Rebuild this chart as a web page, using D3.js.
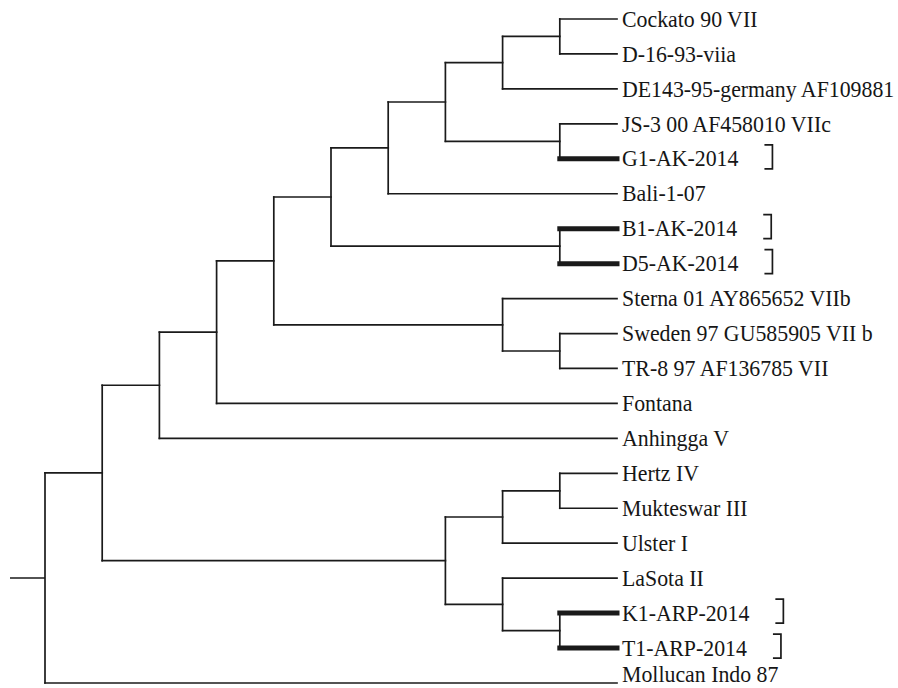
<!DOCTYPE html>
<html>
<head>
<meta charset="utf-8">
<script src="https://cdn.jsdelivr.net/npm/d3@7"></script>
<style>
  html, body { margin: 0; padding: 0; background: #fff; }
  svg { display: block; }
  text { font-family: "Liberation Serif", "Times New Roman", serif; font-size: 24px; fill: #161616; }
</style>
</head>
<body>
<svg id="chart" width="898" height="688"></svg>
<script>
// Leaf order, top to bottom
const leaves = [
  "Cockato 90 VII", "D-16-93-viia", "DE143-95-germany AF109881",
  "JS-3 00 AF458010 VIIc", "G1-AK-2014", "Bali-1-07",
  "B1-AK-2014", "D5-AK-2014", "Sterna 01 AY865652 VIIb",
  "Sweden 97 GU585905 VII b", "TR-8 97 AF136785 VII", "Fontana",
  "Anhingga V", "Hertz IV", "Mukteswar III", "Ulster I",
  "LaSota II", "K1-ARP-2014", "T1-ARP-2014", "Mollucan Indo 87"
];

// Tree topology (nested clades)
const cladeCockato = ["Cockato 90 VII", "D-16-93-viia"];
const cladeDE = [cladeCockato, "DE143-95-germany AF109881"];
const cladeJS = ["JS-3 00 AF458010 VIIc", "G1-AK-2014"];
const cladeBali = [[cladeDE, cladeJS], "Bali-1-07"];
const cladeAK = [cladeBali, ["B1-AK-2014", "D5-AK-2014"]];
const cladeSterna = ["Sterna 01 AY865652 VIIb", ["Sweden 97 GU585905 VII b", "TR-8 97 AF136785 VII"]];
const clusterVII = [cladeAK, cladeSterna];
const clusterC = [[["Hertz IV", "Mukteswar III"], "Ulster I"],
                  ["LaSota II", ["K1-ARP-2014", "T1-ARP-2014"]]];
const tree = [[[[clusterVII, "Fontana"], "Anhingga V"], clusterC], "Mollucan Indo 87"];

// Study isolates: bold branches and bracket marks
const highlighted = ["G1-AK-2014", "B1-AK-2014", "D5-AK-2014", "K1-ARP-2014", "T1-ARP-2014"];

const W = 898, H = 688;
const svg = d3.select("#chart");
const root = d3.hierarchy(tree, d => Array.isArray(d) ? d : null);

const xScale = d3.scaleLinear().domain([0, root.height]).range([45, 617]);
const yScale = d3.scalePoint().domain(leaves).range([19, 683]);

// positions
root.eachAfter(n => {
  n.px = xScale(root.height - n.height);
  if (n.children) {
    n.py = (n.children[0].py + n.children[n.children.length - 1].py) / 2;
  } else {
    n.py = yScale(n.data);
  }
});

const g = svg.append("g");
const stroke = "#1a1a1a";
const sx = 0.91; // condensed serif look of the original

// root stub
g.append("line")
  .attr("x1", 10).attr("x2", root.px)
  .attr("y1", root.py).attr("y2", root.py)
  .attr("stroke", stroke).attr("stroke-width", 1.7);

// horizontal branches
g.selectAll("line.h")
  .data(root.descendants().filter(n => n.parent))
  .join("line")
  .attr("class", "h")
  .attr("x1", n => n.parent.px)
  .attr("x2", n => n.px)
  .attr("y1", n => n.py)
  .attr("y2", n => n.py)
  .attr("stroke", stroke)
  .attr("stroke-width", n => (!n.children && highlighted.includes(n.data)) ? 5 : 1.7)
  .attr("stroke-linecap", "square");

// vertical connectors
g.selectAll("line.v")
  .data(root.descendants().filter(n => n.children))
  .join("line")
  .attr("class", "v")
  .attr("x1", n => n.px)
  .attr("x2", n => n.px)
  .attr("y1", n => n.children[0].py)
  .attr("y2", n => n.children[n.children.length - 1].py)
  .attr("stroke", stroke)
  .attr("stroke-width", 1.7)
  .attr("stroke-linecap", "square");

// labels (baseline kept inside the picture for the bottom leaf)
const labels = g.selectAll("text.leaf")
  .data(root.leaves())
  .join("text")
  .attr("class", "leaf")
  .attr("transform", n => `translate(${n.px + 5},${Math.min(n.py + 7.7, H - 6.5)}) scale(${sx},1)`)
  .text(n => n.data);

// brackets after highlighted isolates
labels.filter(n => highlighted.includes(n.data)).each(function(n) {
  const end = n.px + 5 + this.getComputedTextLength() * sx;
  const bx = end + 34;
  const top = n.py - 14, bot = n.py + 10;
  g.append("path")
    .attr("d", `M${bx - 8},${top} H${bx} V${bot} H${bx - 8}`)
    .attr("fill", "none")
    .attr("stroke", stroke)
    .attr("stroke-width", 1.7);
});
</script>
</body>
</html>
